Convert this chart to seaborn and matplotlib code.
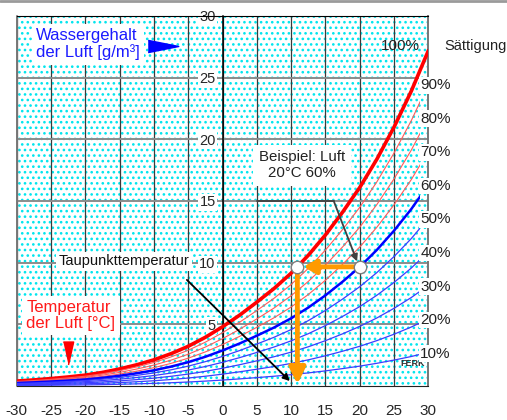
import matplotlib
matplotlib.use('Agg')
import matplotlib.pyplot as plt
from matplotlib.patches import Rectangle
from matplotlib.lines import Line2D
from matplotlib.ticker import MultipleLocator, FixedLocator
import pandas as pd
import seaborn as sns

# Temperatur der Luft [°C] und Wassergehalt bei Sättigung [g/m³]
temps = [-30, -27.5, -25, -22.5, -20, -17.5, -15, -12.5, -10, -7.5, -5, -2.5,
         0, 2.5, 5, 7.5, 10, 12.5, 15, 17.5, 20, 22.5, 25, 27.5, 30]
saturation = [0.40, 0.49, 0.60, 0.73, 0.88, 1.10, 1.38, 1.72, 2.12, 2.62, 3.22, 3.95,
              4.80, 5.75, 6.80, 7.90, 9.15, 10.6, 12.25, 14.1, 16.1, 18.4, 21.0, 23.9, 27.2]
rel_humidity = [100, 90, 80, 70, 60, 50, 40, 30, 20, 10]

x_ticks = [-30, -25, -20, -15, -10, -5, 0, 5, 10, 15, 20, 25, 30]
y_ticks = [5, 10, 15, 20, 25, 30]

# Beispiel: Luft 20°C, 60% -> Taupunkt
example_temp = 20
example_rh = 60
dewpoint_temp = 10.9

sns.set_style('white')
plt.rcParams['font.family'] = ['Liberation Sans', 'DejaVu Sans']
plt.rcParams['axes.unicode_minus'] = False
plt.rcParams['hatch.linewidth'] = 1.1

df = pd.DataFrame(
    [(t, rh, s * rh / 100) for rh in rel_humidity for t, s in zip(temps, saturation)],
    columns=['temp', 'rh', 'water'])
example_water = saturation[temps.index(example_temp)] * example_rh / 100

fig = plt.figure(figsize=(5.07, 4.2), dpi=100)
ax = fig.add_axes([0.033, 0.081, 0.812, 0.881])
ax.set_facecolor('white')

# gepunkteter Hintergrund
bg = Rectangle((-30, 0), 60, 30, facecolor='white', edgecolor='#00e5ee',
               hatch='...', lw=0, zorder=0.2)
ax.add_patch(bg)


def curve_style(rh):
    if rh == 100:
        return '#ff0000', 2.6
    if rh > 60:
        return '#ff5a5a', 0.8
    if rh == 60:
        return '#0000ff', 1.8
    return '#3c3cff', 0.9


clip = Rectangle((-30, 0), 58.8, 30, transform=ax.transData)
for rh in rel_humidity:
    color, lw = curve_style(rh)
    sns.lineplot(data=df[df['rh'] == rh], x='temp', y='water',
                 color=color, lw=lw, ax=ax, zorder=3)
    if rh != 100:
        ax.lines[-1].set_clip_path(clip)

ax.set_xlim(-30, 30)
ax.set_ylim(0, 30)
ax.set_xlabel('')
ax.set_ylabel('')

ax.xaxis.set_major_locator(FixedLocator(x_ticks))
ax.xaxis.set_minor_locator(MultipleLocator(1))
ax.yaxis.set_major_locator(FixedLocator(y_ticks))
ax.yaxis.set_minor_locator(MultipleLocator(1))
ax.set_xticklabels([str(v) for v in x_ticks])
ax.set_yticklabels([str(v) for v in y_ticks])

ax.set_axisbelow(True)
ax.xaxis.grid(True, which='major', color='#3a3a3a', lw=0.9)
ax.yaxis.grid(True, which='major', color='#8c8c8c', lw=1.4)

ax.spines['left'].set_position(('data', 0))
ax.spines['left'].set_color('black')
ax.spines['left'].set_linewidth(1.1)
ax.spines['bottom'].set_color('#222222')
ax.spines['top'].set_color('black')
ax.spines['right'].set_color('#777777')
ax.spines['right'].set_linewidth(1.4)
ax.axvline(-30, color='#777777', lw=1.4, clip_on=False, zorder=2.5)

ax.tick_params(axis='x', which='both', direction='out', length=4, width=0.8,
               color='#333333', pad=9, labelsize=11)
ax.tick_params(axis='y', which='major', direction='out', length=4, width=0.8,
               color='#333333', pad=1, labelsize=10.5)
ax.tick_params(axis='y', which='minor', direction='in', length=4, width=0.8,
               color='#333333')
for tick in ax.yaxis.get_major_ticks():
    tick.label1.set_bbox(dict(facecolor='white', edgecolor='none', pad=1))

box = dict(facecolor='white', edgecolor='none', pad=3)

# Achsbeschriftungen im Diagramm
ax.text(-27.2, 27.7, 'Wassergehalt\nder Luft [g/m³]', color='#1a1aff', fontsize=12,
        ha='left', va='center', linespacing=1.1, bbox=box, zorder=5)
ax.plot(-8.7, 27.6, marker=[(-1, -0.4), (1, 0), (-1, 0.4)], markersize=22,
        color='#0000ff', zorder=5)
ax.text(-28.6, 5.7, 'Temperatur\nder Luft [°C]', color='#ff1a1a', fontsize=12,
        ha='left', va='center', linespacing=1.1, bbox=box, zorder=5)
ax.plot(-22.5, 2.65, marker=[(-0.45, 1), (0.45, 1), (0, -1)], markersize=16.5,
        color='#ff0000', zorder=5)

# Prozentbeschriftungen
for rh in rel_humidity:
    y = rh / 100 * saturation[-1]
    if rh == 100:
        ax.text(28.8, 27.6, '100%', ha='right', va='center', fontsize=11,
                color='#222222', zorder=6)
    else:
        ax.text(28.8, y - 0.1, f'{rh}%', ha='left', va='center', fontsize=11,
                color='#222222', clip_on=False, zorder=6,
                bbox=dict(facecolor='white', edgecolor='none', pad=1))
ax.text(32.3, 27.6, 'Sättigung', ha='left', va='center', fontsize=10.5,
        color='#222222', clip_on=False)
ax.text(29.5, 1.8, 'FERK', ha='right', va='center', fontsize=6.5, fontweight='bold',
        color='#333333', zorder=5)

# Beispiel
ax.text(11.6, 17.9, f'Beispiel: Luft\n{example_temp}°C {example_rh}%', ha='center', va='center',
        fontsize=10.8, linespacing=1.2, color='#222222',
        bbox=dict(facecolor='white', edgecolor='none', pad=4), zorder=5)
ax.plot([5, 16.2], [15, 15], color='#404040', lw=1.3, zorder=4)
ax.annotate('', xy=(19.6, 10.1), xytext=(16.2, 15),
            arrowprops=dict(arrowstyle='-|>', color='#404040', lw=1.3,
                            mutation_scale=10, shrinkA=0, shrinkB=0), zorder=4)

ax.text(-14.4, 10.1, 'Taupunkttemperatur', ha='center', va='center', fontsize=10.5,
        color='#111111', bbox=dict(facecolor='white', edgecolor='none', pad=2), zorder=5)
ax.annotate('', xy=(9.8, 0.4), xytext=(-5.2, 8.6),
            arrowprops=dict(arrowstyle='-|>', color='black', lw=1.3,
                            mutation_scale=10, shrinkA=0, shrinkB=0), zorder=4)

orange = '#ff9a00'
ax.annotate('', xy=(dewpoint_temp + 0.9, example_water), xytext=(example_temp, example_water),
            arrowprops=dict(arrowstyle='-|>,head_length=0.6,head_width=0.35', color=orange,
                            lw=3.5, mutation_scale=12, shrinkA=0, shrinkB=0), zorder=6)
ax.annotate('', xy=(dewpoint_temp, 0.15), xytext=(dewpoint_temp, example_water),
            arrowprops=dict(arrowstyle='-|>,head_length=0.8,head_width=0.4', color=orange,
                            lw=3.5, mutation_scale=12, shrinkA=0, shrinkB=0), zorder=6)
ax.scatter([example_temp, dewpoint_temp], [example_water, example_water], s=80,
           facecolor='white', edgecolor='#7f7f7f', linewidth=1, zorder=7)

fig.add_artist(Line2D([0, 1], [0.997, 0.997], transform=fig.transFigure,
                      color='#9a9a9a', lw=2))

fig.savefig('out.png', dpi=100)
